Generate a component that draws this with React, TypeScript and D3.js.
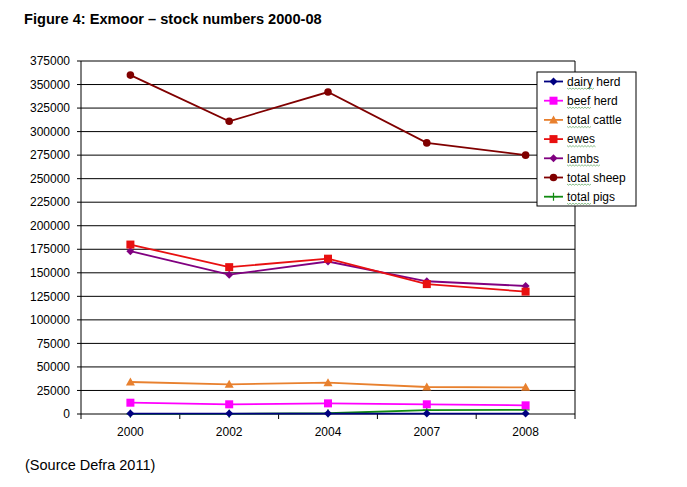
import React from "react";
import * as d3 from "d3";

const width = 687;
const height = 487;

const years = ["2000", "2002", "2004", "2007", "2008"];
const yTicks = d3.range(0, 375001, 25000);

const dairyHerd = [500, 500, 500, 400, 400];
const beefHerd = [12000, 10300, 11300, 10300, 9200];
const totalCattle = [34000, 31500, 33300, 28700, 28300];
const ewes = [180000, 156000, 165000, 138000, 130000];
const lambs = [173000, 148000, 162000, 141000, 136000];
const totalSheep = [360000, 311000, 342000, 288000, 275000];
const totalPigs = [200, 200, 800, 4200, 4300];

const seriesNames = ["dairy herd", "beef herd", "total cattle", "ewes", "lambs", "total sheep", "total pigs"];
const seriesValues = [dairyHerd, beefHerd, totalCattle, ewes, lambs, totalSheep, totalPigs];
const seriesColors = ["#000080", "#ff00ff", "#e8802e", "#e81010", "#800080", "#800000", "#118a11"];
const seriesMarkers = ["diamond", "square", "triangle", "square", "diamond", "circle", "plus"];

const left = 81;
const right = 575;
const top = 61;
const bottom = 414;

function Marker({ type, x, y, color }: { type: string; x: number; y: number; color: string }) {
  if (type === "diamond") {
    return <path d={`M${x},${y - 4}L${x + 4},${y}L${x},${y + 4}L${x - 4},${y}Z`} fill={color} />;
  }
  if (type === "square") {
    return <rect x={x - 4} y={y - 4} width={8} height={8} fill={color} />;
  }
  if (type === "triangle") {
    return <path d={`M${x},${y - 4.5}L${x + 4.5},${y + 3.5}L${x - 4.5},${y + 3.5}Z`} fill={color} />;
  }
  if (type === "circle") {
    return <circle cx={x} cy={y} r={3.8} fill={color} />;
  }
  return <path d={`M${x - 4},${y}H${x + 4}M${x},${y - 4}V${y + 4}`} stroke={color} strokeWidth={1.2} />;
}

// spell-check squiggle under the first word of a legend label
function squiggle(x0: number, x1: number, yb: number) {
  let d = `M${x0},${yb}`;
  for (let px = x0, k = 0; px < x1; px += 1.5, k++) {
    d += `L${px + 1.5},${yb + (k % 2 === 0 ? 1.2 : 0)}`;
  }
  return d;
}

export default function App() {
  const x = d3.scaleBand<string>().domain(years).range([left, right]).padding(0);
  const y = d3.scaleLinear().domain([0, 375000]).range([bottom, top]);
  const cx = (d: string) => (x(d) as number) + x.bandwidth() / 2;

  const line = d3
    .line<number>()
    .x((_, i) => cx(years[i]))
    .y((v) => y(v));

  const font = "'Liberation Sans', Arial, sans-serif";
  const legX = 537;
  const legY = 72;
  const rowH = 19.2;
  const firstWordW = [26, 23, 23, 28, 32, 23, 23];

  return (
    <svg width={width} height={height} style={{ position: "absolute", left: 0, top: 0, background: "#fff" }}>
      <text x={24} y={24} fontFamily={font} fontWeight="bold" fontSize={14.6}>
        Figure 4: Exmoor – stock numbers 2000-08
      </text>

      {/* grid and axis */}
      {yTicks.map((t) => (
        <g key={t}>
          <line x1={left - 4} x2={right} y1={y(t)} y2={y(t)} stroke="#000" strokeWidth={1} />
          <text x={70} y={y(t)} dy="0.35em" textAnchor="end" fontFamily={font} fontSize={12}>
            {t}
          </text>
        </g>
      ))}
      <line x1={left} x2={left} y1={top} y2={bottom + 5} stroke="#000" />
      <line x1={right} x2={right} y1={top} y2={bottom + 5} stroke="#000" />
      {years.map((yr, i) => (
        <g key={yr}>
          {i > 0 && <line x1={x(yr)} x2={x(yr)} y1={bottom} y2={bottom + 5} stroke="#000" />}
          <text x={cx(yr)} y={432} dy="0.35em" textAnchor="middle" fontFamily={font} fontSize={12}>
            {yr}
          </text>
        </g>
      ))}

      {/* series */}
      {[6, 0, 1, 2, 4, 3, 5].map((s) => (
        <g key={seriesNames[s]}>
          <path d={line(seriesValues[s]) || ""} fill="none" stroke={seriesColors[s]} strokeWidth={1.8} />
          {seriesValues[s].map((v, i) => (
            <Marker key={i} type={seriesMarkers[s]} x={cx(years[i])} y={y(v)} color={seriesColors[s]} />
          ))}
        </g>
      ))}

      {/* legend */}
      <rect x={legX} y={legY} width={99} height={134} fill="#fff" stroke="#000" strokeWidth={1} />
      {seriesNames.map((name, i) => {
        const ry = legY + 9.5 + i * rowH;
        return (
          <g key={name}>
            <line x1={544} x2={563} y1={ry} y2={ry} stroke={seriesColors[i]} strokeWidth={1.8} />
            <Marker type={seriesMarkers[i]} x={553.5} y={ry} color={seriesColors[i]} />
            <text x={567} y={ry} dy="0.35em" fontFamily={font} fontSize={12}>
              {name}
            </text>
            <path d={squiggle(567, 567 + firstWordW[i], ry + 6.5)} fill="none" stroke="#6fae6f" strokeWidth={0.8} />
          </g>
        );
      })}

      <text x={25} y={465} dy="0.35em" fontFamily={font} fontSize={14.5}>
        (Source Defra 2011)
      </text>
    </svg>
  );
}
